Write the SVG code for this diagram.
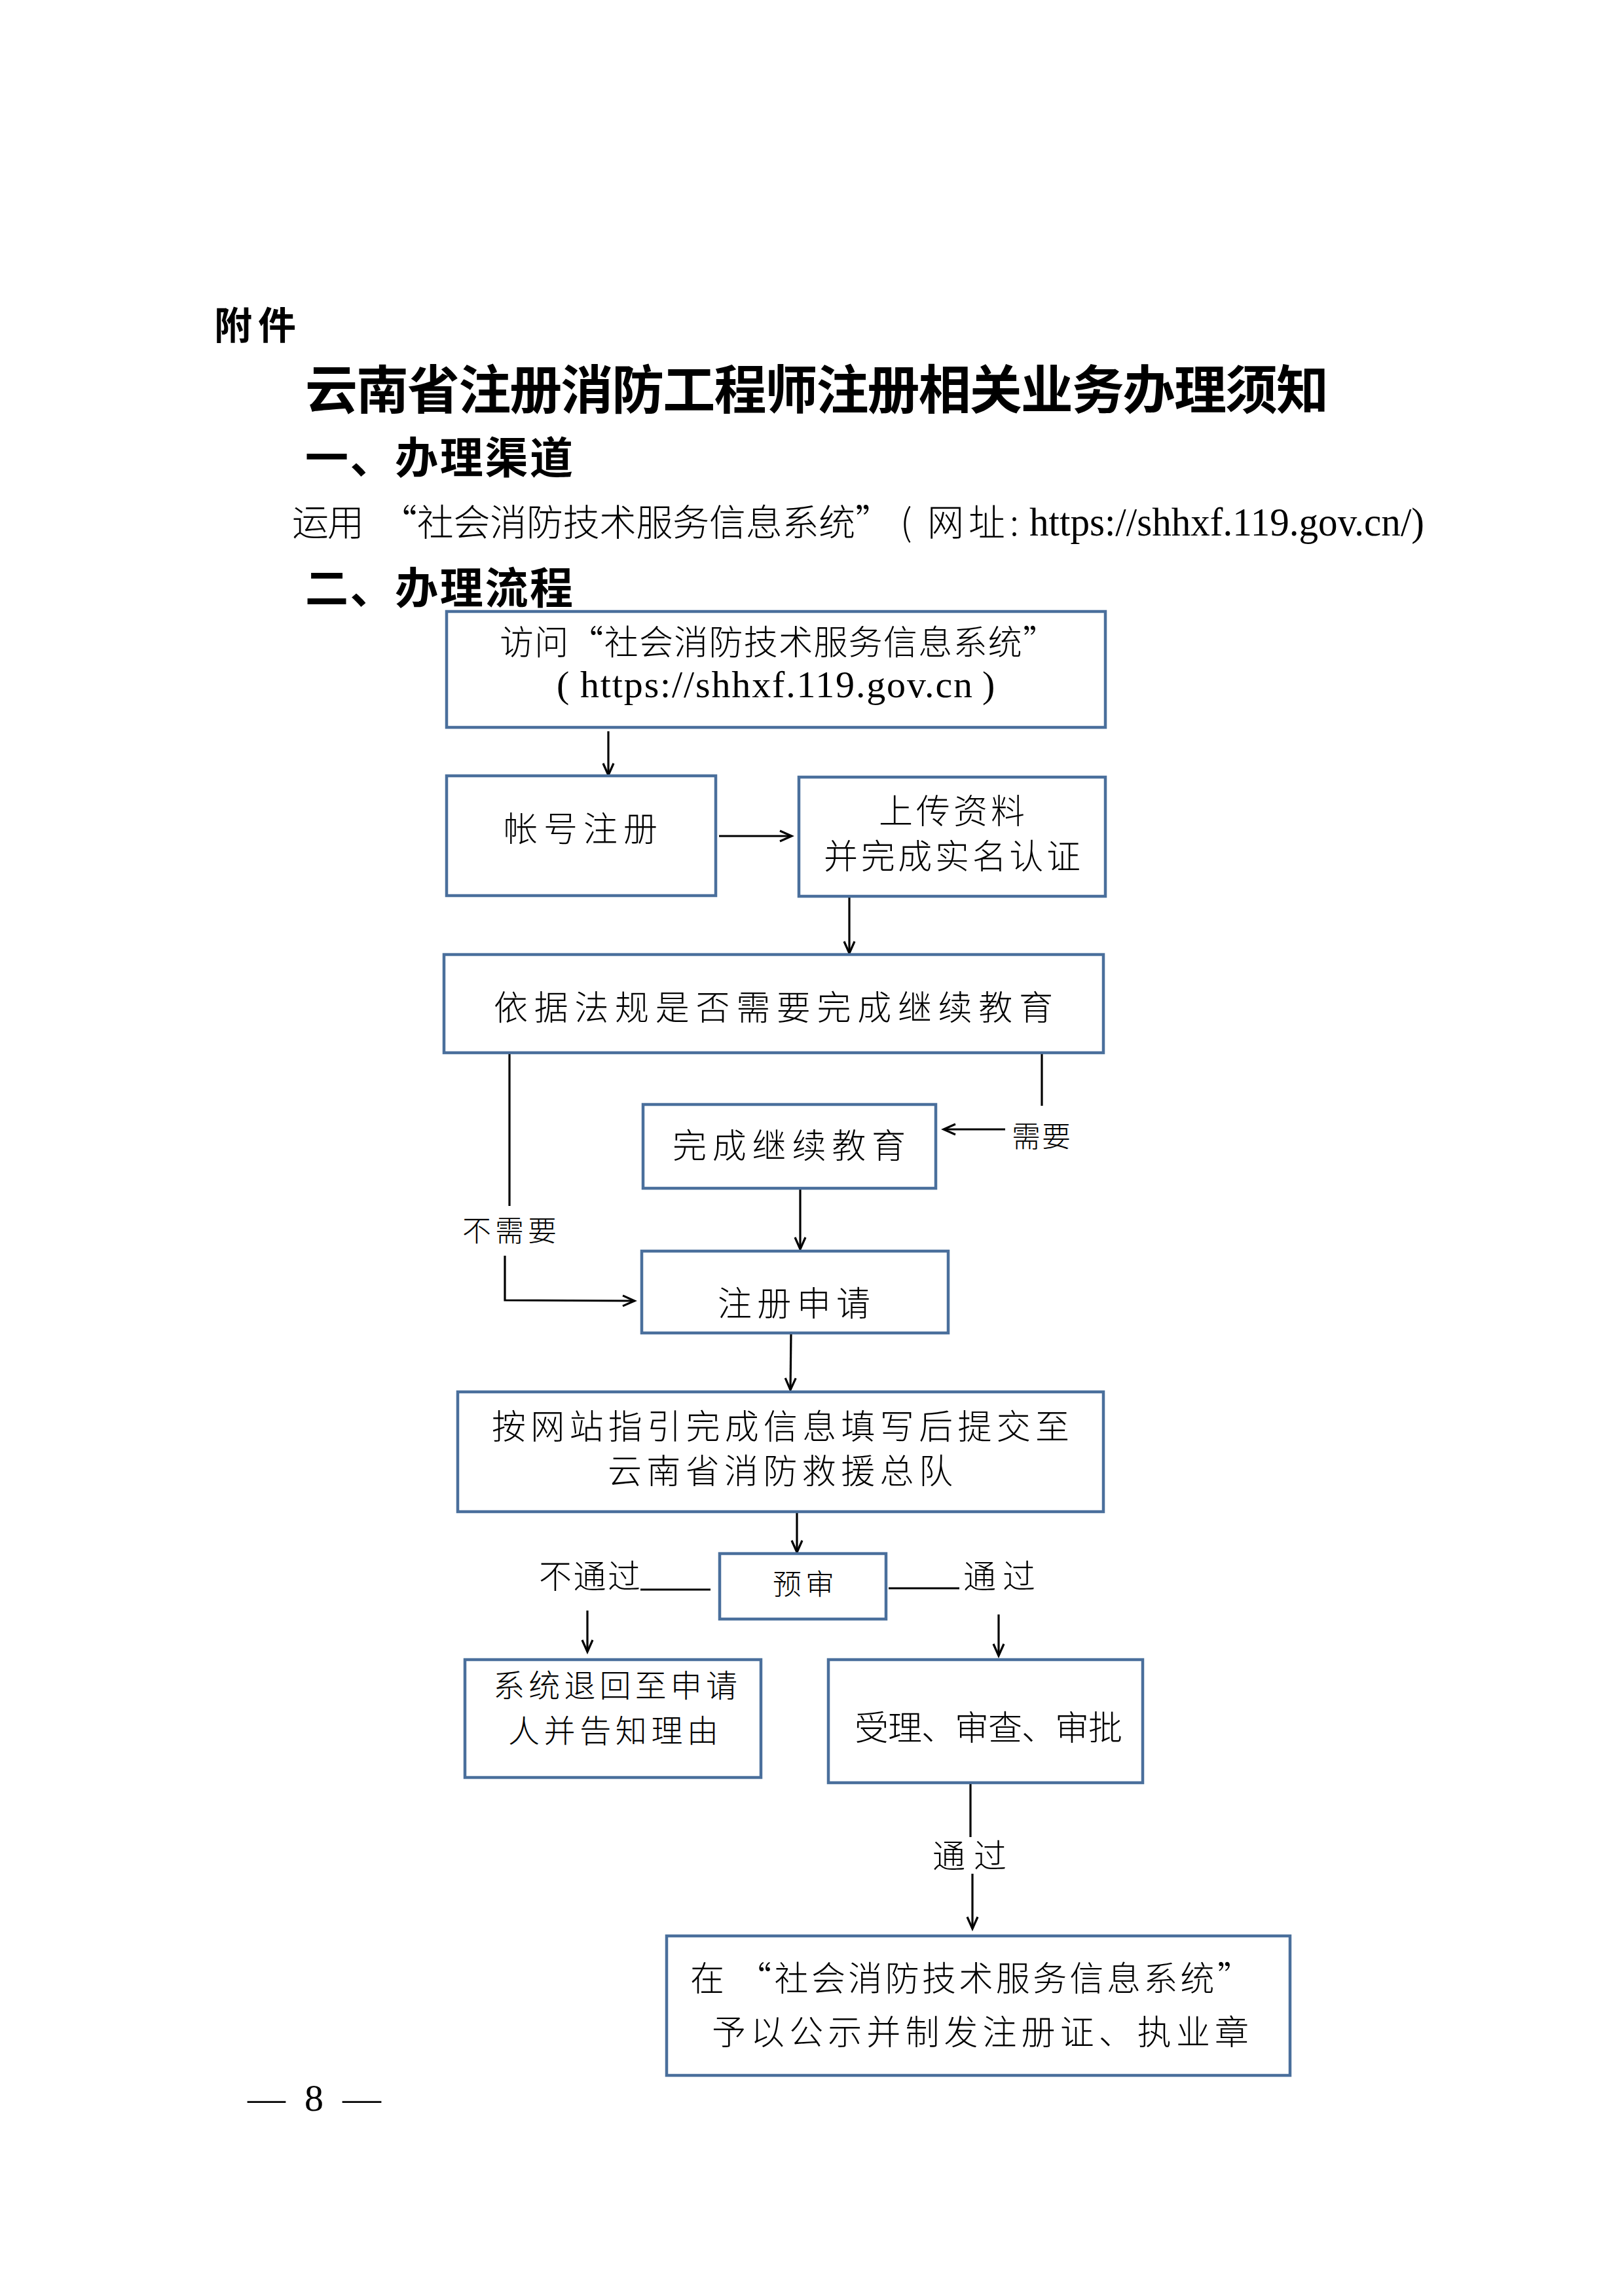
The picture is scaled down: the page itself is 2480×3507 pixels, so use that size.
<svg xmlns="http://www.w3.org/2000/svg" width="2480" height="3507" viewBox="0 0 2480 3507">
<style>
.bg{fill:#ffffff}
.box{fill:#ffffff;stroke:#4a6f9c;stroke-width:4.5}
.ln{fill:none;stroke:#000000;stroke-width:3.2}
.arr{fill:none;stroke:#000000;stroke-width:3.2;marker-end:url(#ah)}
.cjk{font-family:"Noto Sans CJK SC","Noto Sans CJK JP",sans-serif;font-weight:300;fill:#000}
.hd{font-family:"Noto Sans CJK SC","Noto Sans CJK JP",sans-serif;font-weight:700;fill:#000}
.lat{font-family:"Liberation Serif","Times New Roman",serif;fill:#000}
.t52{font-size:52px}
.t48{font-size:48px}
.t44{font-size:44px}
.t50{font-size:50px}
</style>
<defs>
<marker id="ah" markerUnits="userSpaceOnUse" markerWidth="30" markerHeight="30" refX="20" refY="10" orient="auto" viewBox="0 0 30 20">
<path d="M2,2 L20,10 L2,18" fill="none" stroke="#000" stroke-width="3.2"/>
</marker>
</defs>
<rect class="bg" x="0" y="0" width="2480" height="3507"/>

<g id="header">
<text class="hd" x="327" y="518" font-size="58" textLength="125">附件</text>
<text class="hd" x="466" y="624" font-size="80" font-weight="900" textLength="1563">云南省注册消防工程师注册相关业务办理须知</text>
<text class="hd" x="466" y="723" font-size="66" textLength="409">一、办理渠道</text>
<text class="cjk" x="446" y="818" font-size="56" textLength="110">运用</text>
<text class="cjk" x="581" y="818" font-size="56" textLength="781">“社会消防技术服务信息系统”</text>
<text class="cjk" x="1375" y="818" font-size="56">(</text>
<text class="cjk" x="1416" y="818" font-size="56" textLength="140">网址:</text>
<text class="lat" x="1572" y="818" font-size="62" textLength="603" lengthAdjust="spacingAndGlyphs">https://shhxf.119.gov.cn/)</text>
<text class="hd" x="466" y="922" font-size="66" textLength="409">二、办理流程</text>
</g>

<g id="connectors">
<line class="arr" x1="929" y1="1117" x2="929" y2="1184"/>
<line class="arr" x1="1098" y1="1277" x2="1209" y2="1277"/>
<line class="arr" x1="1297" y1="1369" x2="1297" y2="1456"/>
<line class="ln" x1="778" y1="1608" x2="778" y2="1842"/>
<polyline class="arr" points="771,1918 771,1986 969,1987"/>
<line class="ln" x1="1591" y1="1606" x2="1591" y2="1689"/>
<line class="arr" x1="1535" y1="1725" x2="1441" y2="1725"/>
<line class="arr" x1="1222" y1="1815" x2="1222" y2="1908"/>
<line class="arr" x1="1208" y1="2036" x2="1207" y2="2123"/>
<line class="arr" x1="1217" y1="2309" x2="1217" y2="2371"/>
<line class="ln" x1="978" y1="2428" x2="1085" y2="2428"/>
<line class="arr" x1="897" y1="2460" x2="897" y2="2523"/>
<line class="ln" x1="1357" y1="2426" x2="1465" y2="2426"/>
<line class="arr" x1="1525" y1="2466" x2="1525" y2="2529"/>
<line class="ln" x1="1482" y1="2723" x2="1482" y2="2806"/>
<line class="arr" x1="1485" y1="2862" x2="1485" y2="2946"/>
</g>

<g id="labels">
<text class="cjk t44" x="706" y="1896" textLength="144">不需要</text>
<text class="cjk t44" x="1545" y="1752" textLength="90">需要</text>
<text class="cjk t50" x="823" y="2426" textLength="155">不通过</text>
<text class="cjk t50" x="1471" y="2426" textLength="110">通过</text>
<text class="cjk t50" x="1424" y="2853" textLength="113">通过</text>
</g>

<g id="n1">
<rect class="box" x="682" y="934" width="1006" height="177"/>
<text class="cjk t52" x="763" y="1000" textLength="851">访问“社会消防技术服务信息系统”</text>
<text class="lat" x="850" y="1065" font-size="58">(</text>
<text class="lat" x="886" y="1065" font-size="58" textLength="599">https://shhxf.119.gov.cn</text>
<text class="lat" x="1500" y="1065" font-size="58">)</text>
</g>
<g id="n2">
<rect class="box" x="682" y="1185" width="411" height="183"/>
<text class="cjk t52" x="769" y="1285" textLength="235">帐号注册</text>
</g>
<g id="n3">
<rect class="box" x="1220" y="1187" width="468" height="182"/>
<text class="cjk t52" x="1342" y="1258" textLength="223">上传资料</text>
<text class="cjk t52" x="1258" y="1327" textLength="392">并完成实名认证</text>
</g>
<g id="n4">
<rect class="box" x="678" y="1458" width="1007" height="150"/>
<text class="cjk t52" x="754" y="1558" textLength="854">依据法规是否需要完成继续教育</text>
</g>
<g id="n5">
<rect class="box" x="982" y="1687" width="447" height="128"/>
<text class="cjk t52" x="1027" y="1769" textLength="356">完成继续教育</text>
</g>
<g id="n6">
<rect class="box" x="980" y="1911" width="468" height="125"/>
<text class="cjk t52" x="1096" y="2010" textLength="233">注册申请</text>
</g>
<g id="n7">
<rect class="box" x="699" y="2126" width="986" height="183"/>
<text class="cjk t52" x="751" y="2198" textLength="882">按网站指引完成信息填写后提交至</text>
<text class="cjk t52" x="928" y="2266" textLength="527">云南省消防救援总队</text>
</g>
<g id="n8">
<rect class="box" x="1099" y="2373" width="254" height="100"/>
<text class="cjk t44" x="1180" y="2436" textLength="94">预审</text>
</g>
<g id="n9">
<rect class="box" x="710" y="2535" width="452" height="180"/>
<text class="cjk t48" x="753" y="2592" textLength="373">系统退回至申请</text>
<text class="cjk t48" x="776" y="2661" textLength="321">人并告知理由</text>
</g>
<g id="n10">
<rect class="box" x="1265" y="2535" width="480" height="188"/>
<text class="cjk t52" x="1305" y="2658" textLength="409">受理、审查、审批</text>
</g>
<g id="n11">
<rect class="box" x="1018" y="2957" width="952" height="213"/>
<text class="cjk t52" x="1054" y="3041" textLength="857">在 “社会消防技术服务信息系统”</text>
<text class="cjk t52" x="1087" y="3123" textLength="820">予以公示并制发注册证、执业章</text>
</g>

<g id="footer">
<text class="lat" x="378" y="3224" font-size="58" textLength="58" lengthAdjust="spacingAndGlyphs">—</text>
<text class="lat" x="465" y="3224" font-size="58">8</text>
<text class="lat" x="523" y="3224" font-size="58" textLength="59" lengthAdjust="spacingAndGlyphs">—</text>
</g>
</svg>
